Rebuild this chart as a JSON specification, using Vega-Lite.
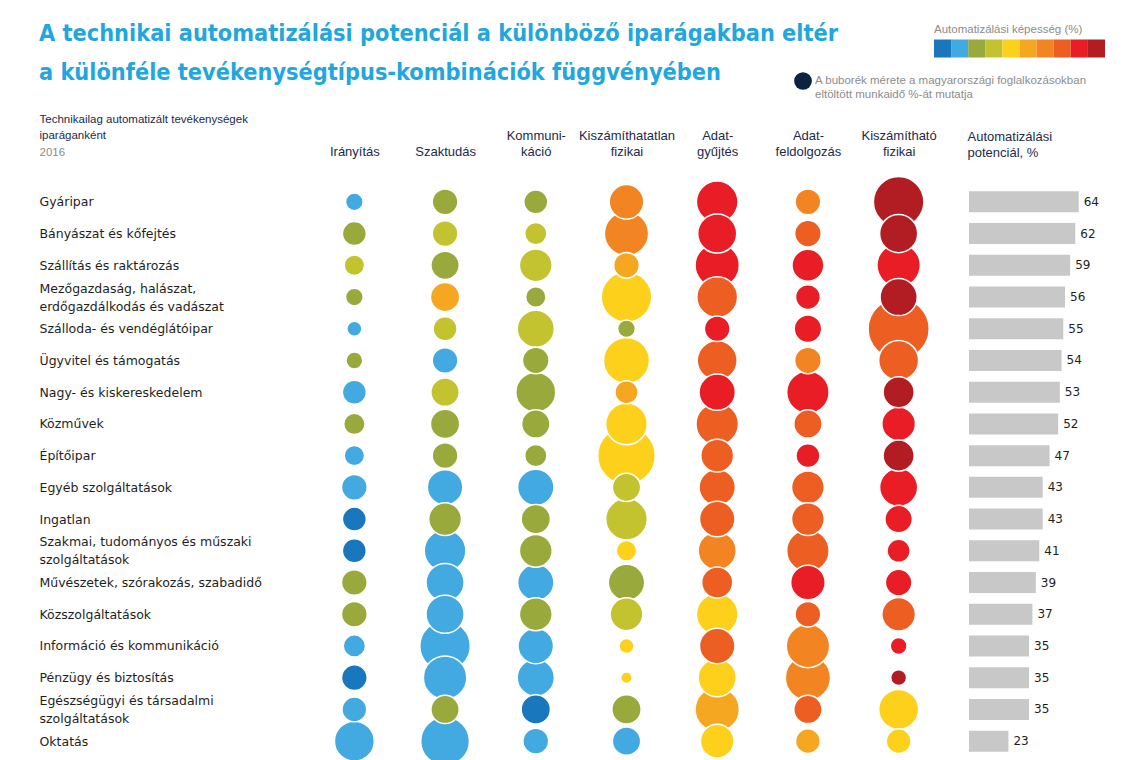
{
  "$schema": "https://vega.github.io/schema/vega-lite/v6.json",
  "padding": {"left": 39, "top": 21, "right": 0, "bottom": 0},
  "background": "white",
  "bounds": "flush",
  "spacing": 25,
  "title": {
    "text": ["A technikai automatizálási potenciál a különböző iparágakban eltér", "a különféle tevékenységtípus-kombinációk függvényében"],
    "anchor": "start",
    "frame": "bounds",
    "font": "Liberation Sans Narrow, DejaVu Sans Condensed, sans-serif",
    "fontSize": 23.3,
    "fontWeight": "bold",
    "color": "#22a6de",
    "lineHeight": 39,
    "offset": -61
  },
  "config": {"view": {"stroke": null}, "font": "DejaVu Sans"},
  "datasets": {
    "buborek": [
      {"ag": "Gyáripar", "tev": "Irányítás", "kep": 15, "ido": 4.0},
      {"ag": "Gyáripar", "tev": "Szaktudás", "kep": 25, "ido": 8.4},
      {"ag": "Gyáripar", "tev": "Kommunikáció", "kep": 25, "ido": 7.3},
      {"ag": "Gyáripar", "tev": "Kiszámíthatatlan fizikai", "kep": 65, "ido": 15.2},
      {"ag": "Gyáripar", "tev": "Adatgyűjtés", "kep": 85, "ido": 22.1},
      {"ag": "Gyáripar", "tev": "Adatfeldolgozás", "kep": 65, "ido": 8.4},
      {"ag": "Gyáripar", "tev": "Kiszámítható fizikai", "kep": 95, "ido": 32.5},
      {"ag": "Bányászat és kőfejtés", "tev": "Irányítás", "kep": 25, "ido": 7.3},
      {"ag": "Bányászat és kőfejtés", "tev": "Szaktudás", "kep": 35, "ido": 8.4},
      {"ag": "Bányászat és kőfejtés", "tev": "Kommunikáció", "kep": 35, "ido": 6.3},
      {"ag": "Bányászat és kőfejtés", "tev": "Kiszámíthatatlan fizikai", "kep": 65, "ido": 25.0},
      {"ag": "Bányászat és kőfejtés", "tev": "Adatgyűjtés", "kep": 85, "ido": 19.4},
      {"ag": "Bányászat és kőfejtés", "tev": "Adatfeldolgozás", "kep": 75, "ido": 9.0},
      {"ag": "Bányászat és kőfejtés", "tev": "Kiszámítható fizikai", "kep": 95, "ido": 18.5},
      {"ag": "Szállítás és raktározás", "tev": "Irányítás", "kep": 35, "ido": 5.3},
      {"ag": "Szállítás és raktározás", "tev": "Szaktudás", "kep": 25, "ido": 10.2},
      {"ag": "Szállítás és raktározás", "tev": "Kommunikáció", "kep": 35, "ido": 13.7},
      {"ag": "Szállítás és raktározás", "tev": "Kiszámíthatatlan fizikai", "kep": 55, "ido": 8.4},
      {"ag": "Szállítás és raktározás", "tev": "Adatgyűjtés", "kep": 85, "ido": 25.0},
      {"ag": "Szállítás és raktározás", "tev": "Adatfeldolgozás", "kep": 85, "ido": 13.0},
      {"ag": "Szállítás és raktározás", "tev": "Kiszámítható fizikai", "kep": 85, "ido": 24.0},
      {"ag": "Mezőgazdaság, halászat,\nerdőgazdálkodás és vadászat", "tev": "Irányítás", "kep": 25, "ido": 4.0},
      {"ag": "Mezőgazdaság, halászat,\nerdőgazdálkodás és vadászat", "tev": "Szaktudás", "kep": 55, "ido": 10.9},
      {"ag": "Mezőgazdaság, halászat,\nerdőgazdálkodás és vadászat", "tev": "Kommunikáció", "kep": 25, "ido": 5.3},
      {"ag": "Mezőgazdaság, halászat,\nerdőgazdálkodás és vadászat", "tev": "Kiszámíthatatlan fizikai", "kep": 45, "ido": 32.5},
      {"ag": "Mezőgazdaság, halászat,\nerdőgazdálkodás és vadászat", "tev": "Adatgyűjtés", "kep": 75, "ido": 21.2},
      {"ag": "Mezőgazdaság, halászat,\nerdőgazdálkodás és vadászat", "tev": "Adatfeldolgozás", "kep": 85, "ido": 7.8},
      {"ag": "Mezőgazdaság, halászat,\nerdőgazdálkodás és vadászat", "tev": "Kiszámítható fizikai", "kep": 95, "ido": 17.6},
      {"ag": "Szálloda- és vendéglátóipar", "tev": "Irányítás", "kep": 15, "ido": 2.9},
      {"ag": "Szálloda- és vendéglátóipar", "tev": "Szaktudás", "kep": 35, "ido": 7.3},
      {"ag": "Szálloda- és vendéglátóipar", "tev": "Kommunikáció", "kep": 35, "ido": 17.6},
      {"ag": "Szálloda- és vendéglátóipar", "tev": "Kiszámíthatatlan fizikai", "kep": 25, "ido": 4.0},
      {"ag": "Szálloda- és vendéglátóipar", "tev": "Adatgyűjtés", "kep": 85, "ido": 8.4},
      {"ag": "Szálloda- és vendéglátóipar", "tev": "Adatfeldolgozás", "kep": 85, "ido": 9.6},
      {"ag": "Szálloda- és vendéglátóipar", "tev": "Kiszámítható fizikai", "kep": 75, "ido": 47.6},
      {"ag": "Ügyvitel és támogatás", "tev": "Irányítás", "kep": 25, "ido": 3.6},
      {"ag": "Ügyvitel és támogatás", "tev": "Szaktudás", "kep": 15, "ido": 8.4},
      {"ag": "Ügyvitel és támogatás", "tev": "Kommunikáció", "kep": 25, "ido": 9.0},
      {"ag": "Ügyvitel és támogatás", "tev": "Kiszámíthatatlan fizikai", "kep": 45, "ido": 27.0},
      {"ag": "Ügyvitel és támogatás", "tev": "Adatgyűjtés", "kep": 75, "ido": 20.3},
      {"ag": "Ügyvitel és támogatás", "tev": "Adatfeldolgozás", "kep": 65, "ido": 9.0},
      {"ag": "Ügyvitel és támogatás", "tev": "Kiszámítható fizikai", "kep": 75, "ido": 20.3},
      {"ag": "Nagy- és kiskereskedelem", "tev": "Irányítás", "kep": 15, "ido": 7.3},
      {"ag": "Nagy- és kiskereskedelem", "tev": "Szaktudás", "kep": 35, "ido": 10.2},
      {"ag": "Nagy- és kiskereskedelem", "tev": "Kommunikáció", "kep": 25, "ido": 20.3},
      {"ag": "Nagy- és kiskereskedelem", "tev": "Kiszámíthatatlan fizikai", "kep": 55, "ido": 6.8},
      {"ag": "Nagy- és kiskereskedelem", "tev": "Adatgyűjtés", "kep": 85, "ido": 16.8},
      {"ag": "Nagy- és kiskereskedelem", "tev": "Adatfeldolgozás", "kep": 85, "ido": 23.0},
      {"ag": "Nagy- és kiskereskedelem", "tev": "Kiszámítható fizikai", "kep": 95, "ido": 12.3},
      {"ag": "Közművek", "tev": "Irányítás", "kep": 25, "ido": 5.8},
      {"ag": "Közművek", "tev": "Szaktudás", "kep": 25, "ido": 10.9},
      {"ag": "Közművek", "tev": "Kommunikáció", "kep": 25, "ido": 10.2},
      {"ag": "Közművek", "tev": "Kiszámíthatatlan fizikai", "kep": 45, "ido": 22.1},
      {"ag": "Közművek", "tev": "Adatgyűjtés", "kep": 75, "ido": 23.0},
      {"ag": "Közművek", "tev": "Adatfeldolgozás", "kep": 75, "ido": 10.2},
      {"ag": "Közművek", "tev": "Kiszámítható fizikai", "kep": 85, "ido": 14.4},
      {"ag": "Építőipar", "tev": "Irányítás", "kep": 15, "ido": 5.3},
      {"ag": "Építőipar", "tev": "Szaktudás", "kep": 25, "ido": 8.4},
      {"ag": "Építőipar", "tev": "Kommunikáció", "kep": 25, "ido": 6.3},
      {"ag": "Építőipar", "tev": "Kiszámíthatatlan fizikai", "kep": 45, "ido": 42.3},
      {"ag": "Építőipar", "tev": "Adatgyűjtés", "kep": 75, "ido": 13.7},
      {"ag": "Építőipar", "tev": "Adatfeldolgozás", "kep": 85, "ido": 7.3},
      {"ag": "Építőipar", "tev": "Kiszámítható fizikai", "kep": 95, "ido": 12.3},
      {"ag": "Egyéb szolgáltatások", "tev": "Irányítás", "kep": 15, "ido": 8.4},
      {"ag": "Egyéb szolgáltatások", "tev": "Szaktudás", "kep": 15, "ido": 16.0},
      {"ag": "Egyéb szolgáltatások", "tev": "Kommunikáció", "kep": 15, "ido": 16.8},
      {"ag": "Egyéb szolgáltatások", "tev": "Kiszámíthatatlan fizikai", "kep": 35, "ido": 10.2},
      {"ag": "Egyéb szolgáltatások", "tev": "Adatgyűjtés", "kep": 75, "ido": 16.8},
      {"ag": "Egyéb szolgáltatások", "tev": "Adatfeldolgozás", "kep": 75, "ido": 13.7},
      {"ag": "Egyéb szolgáltatások", "tev": "Kiszámítható fizikai", "kep": 85, "ido": 18.5},
      {"ag": "Ingatlan", "tev": "Irányítás", "kep": 5, "ido": 7.3},
      {"ag": "Ingatlan", "tev": "Szaktudás", "kep": 25, "ido": 13.7},
      {"ag": "Ingatlan", "tev": "Kommunikáció", "kep": 25, "ido": 10.9},
      {"ag": "Ingatlan", "tev": "Kiszámíthatatlan fizikai", "kep": 35, "ido": 22.1},
      {"ag": "Ingatlan", "tev": "Adatgyűjtés", "kep": 75, "ido": 16.0},
      {"ag": "Ingatlan", "tev": "Adatfeldolgozás", "kep": 75, "ido": 13.7},
      {"ag": "Ingatlan", "tev": "Kiszámítható fizikai", "kep": 85, "ido": 9.6},
      {"ag": "Szakmai, tudományos és műszaki\nszolgáltatások", "tev": "Irányítás", "kep": 5, "ido": 7.3},
      {"ag": "Szakmai, tudományos és műszaki\nszolgáltatások", "tev": "Szaktudás", "kep": 15, "ido": 22.1},
      {"ag": "Szakmai, tudományos és műszaki\nszolgáltatások", "tev": "Kommunikáció", "kep": 25, "ido": 13.7},
      {"ag": "Szakmai, tudományos és műszaki\nszolgáltatások", "tev": "Kiszámíthatatlan fizikai", "kep": 45, "ido": 5.3},
      {"ag": "Szakmai, tudományos és műszaki\nszolgáltatások", "tev": "Adatgyűjtés", "kep": 65, "ido": 18.5},
      {"ag": "Szakmai, tudományos és műszaki\nszolgáltatások", "tev": "Adatfeldolgozás", "kep": 75, "ido": 23.0},
      {"ag": "Szakmai, tudományos és műszaki\nszolgáltatások", "tev": "Kiszámítható fizikai", "kep": 85, "ido": 6.8},
      {"ag": "Művészetek, szórakozás, szabadidő", "tev": "Irányítás", "kep": 25, "ido": 8.4},
      {"ag": "Művészetek, szórakozás, szabadidő", "tev": "Szaktudás", "kep": 15, "ido": 18.5},
      {"ag": "Művészetek, szórakozás, szabadidő", "tev": "Kommunikáció", "kep": 15, "ido": 16.8},
      {"ag": "Művészetek, szórakozás, szabadidő", "tev": "Kiszámíthatatlan fizikai", "kep": 25, "ido": 16.8},
      {"ag": "Művészetek, szórakozás, szabadidő", "tev": "Adatgyűjtés", "kep": 75, "ido": 12.3},
      {"ag": "Művészetek, szórakozás, szabadidő", "tev": "Adatfeldolgozás", "kep": 85, "ido": 15.2},
      {"ag": "Művészetek, szórakozás, szabadidő", "tev": "Kiszámítható fizikai", "kep": 85, "ido": 9.0},
      {"ag": "Közszolgáltatások", "tev": "Irányítás", "kep": 25, "ido": 8.4},
      {"ag": "Közszolgáltatások", "tev": "Szaktudás", "kep": 15, "ido": 18.5},
      {"ag": "Közszolgáltatások", "tev": "Kommunikáció", "kep": 25, "ido": 13.7},
      {"ag": "Közszolgáltatások", "tev": "Kiszámíthatatlan fizikai", "kep": 35, "ido": 13.7},
      {"ag": "Közszolgáltatások", "tev": "Adatgyűjtés", "kep": 45, "ido": 22.1},
      {"ag": "Közszolgáltatások", "tev": "Adatfeldolgozás", "kep": 75, "ido": 8.4},
      {"ag": "Közszolgáltatások", "tev": "Kiszámítható fizikai", "kep": 75, "ido": 14.4},
      {"ag": "Információ és kommunikáció", "tev": "Irányítás", "kep": 15, "ido": 6.3},
      {"ag": "Információ és kommunikáció", "tev": "Szaktudás", "kep": 15, "ido": 32.5},
      {"ag": "Információ és kommunikáció", "tev": "Kommunikáció", "kep": 15, "ido": 16.0},
      {"ag": "Információ és kommunikáció", "tev": "Kiszámíthatatlan fizikai", "kep": 45, "ido": 2.9},
      {"ag": "Információ és kommunikáció", "tev": "Adatgyűjtés", "kep": 75, "ido": 16.0},
      {"ag": "Információ és kommunikáció", "tev": "Adatfeldolgozás", "kep": 65, "ido": 24.0},
      {"ag": "Információ és kommunikáció", "tev": "Kiszámítható fizikai", "kep": 85, "ido": 3.6},
      {"ag": "Pénzügy és biztosítás", "tev": "Irányítás", "kep": 5, "ido": 8.4},
      {"ag": "Pénzügy és biztosítás", "tev": "Szaktudás", "kep": 15, "ido": 24.0},
      {"ag": "Pénzügy és biztosítás", "tev": "Kommunikáció", "kep": 15, "ido": 17.6},
      {"ag": "Pénzügy és biztosítás", "tev": "Kiszámíthatatlan fizikai", "kep": 45, "ido": 1.7},
      {"ag": "Pénzügy és biztosítás", "tev": "Adatgyűjtés", "kep": 45, "ido": 18.5},
      {"ag": "Pénzügy és biztosítás", "tev": "Adatfeldolgozás", "kep": 65, "ido": 26.0},
      {"ag": "Pénzügy és biztosítás", "tev": "Kiszámítható fizikai", "kep": 95, "ido": 3.2},
      {"ag": "Egészségügyi és társadalmi\nszolgáltatások", "tev": "Irányítás", "kep": 15, "ido": 7.8},
      {"ag": "Egészségügyi és társadalmi\nszolgáltatások", "tev": "Szaktudás", "kep": 25, "ido": 10.2},
      {"ag": "Egészségügyi és társadalmi\nszolgáltatások", "tev": "Kommunikáció", "kep": 5, "ido": 10.9},
      {"ag": "Egészségügyi és társadalmi\nszolgáltatások", "tev": "Kiszámíthatatlan fizikai", "kep": 25, "ido": 10.9},
      {"ag": "Egészségügyi és társadalmi\nszolgáltatások", "tev": "Adatgyűjtés", "kep": 55, "ido": 25.0},
      {"ag": "Egészségügyi és társadalmi\nszolgáltatások", "tev": "Adatfeldolgozás", "kep": 75, "ido": 10.2},
      {"ag": "Egészségügyi és társadalmi\nszolgáltatások", "tev": "Kiszámítható fizikai", "kep": 45, "ido": 20.3},
      {"ag": "Oktatás", "tev": "Irányítás", "kep": 15, "ido": 20.3},
      {"ag": "Oktatás", "tev": "Szaktudás", "kep": 15, "ido": 30.3},
      {"ag": "Oktatás", "tev": "Kommunikáció", "kep": 15, "ido": 8.4},
      {"ag": "Oktatás", "tev": "Kiszámíthatatlan fizikai", "kep": 15, "ido": 10.2},
      {"ag": "Oktatás", "tev": "Adatgyűjtés", "kep": 45, "ido": 14.4},
      {"ag": "Oktatás", "tev": "Adatfeldolgozás", "kep": 55, "ido": 7.8},
      {"ag": "Oktatás", "tev": "Kiszámítható fizikai", "kep": 45, "ido": 7.8}
    ],
    "potencial": [
      {"ag": "Gyáripar", "pot": 64},
      {"ag": "Bányászat és kőfejtés", "pot": 62},
      {"ag": "Szállítás és raktározás", "pot": 59},
      {"ag": "Mezőgazdaság, halászat,\nerdőgazdálkodás és vadászat", "pot": 56},
      {"ag": "Szálloda- és vendéglátóipar", "pot": 55},
      {"ag": "Ügyvitel és támogatás", "pot": 54},
      {"ag": "Nagy- és kiskereskedelem", "pot": 53},
      {"ag": "Közművek", "pot": 52},
      {"ag": "Építőipar", "pot": 47},
      {"ag": "Egyéb szolgáltatások", "pot": 43},
      {"ag": "Ingatlan", "pot": 43},
      {"ag": "Szakmai, tudományos és műszaki\nszolgáltatások", "pot": 41},
      {"ag": "Művészetek, szórakozás, szabadidő", "pot": 39},
      {"ag": "Közszolgáltatások", "pot": 37},
      {"ag": "Információ és kommunikáció", "pot": 35},
      {"ag": "Pénzügy és biztosítás", "pot": 35},
      {"ag": "Egészségügyi és társadalmi\nszolgáltatások", "pot": 35},
      {"ag": "Oktatás", "pot": 23}
    ]
  },
  "hconcat": [
    {
      "width": 635,
      "height": 571,
      "data": {"name": "buborek"},
      "mark": {"type": "circle", "opacity": 1, "stroke": "white", "strokeWidth": 1.5},
      "encoding": {
        "x": {
          "field": "tev", "type": "nominal", "sort": null,
          "scale": {"type": "point", "padding": 0.5},
          "axis": {
            "orient": "top", "domain": false, "ticks": false, "grid": false,
            "labelAngle": 0, "labelPadding": 44,
            "labelFont": "Liberation Sans", "labelFontSize": 13, "labelColor": "#1b2a4e",
            "labelLineHeight": 16,
            "labelExpr": "datum.value == 'Kommunikáció' ? ['Kommuni-', 'káció'] : datum.value == 'Adatgyűjtés' ? ['Adat-', 'gyűjtés'] : datum.value == 'Adatfeldolgozás' ? ['Adat-', 'feldolgozás'] : indexof(datum.value, ' ') > 0 ? split(datum.value, ' ') : ['', datum.value]",
            "title": "2016", "titleX": -270, "titleY": -31, "titleAlign": "left", "titleBaseline": "alphabetic",
            "titleColor": "#8c8c8c", "titleFontWeight": "normal", "titleFontSize": 11.5, "titleFont": "Liberation Sans"
          }
        },
        "y": {
          "field": "ag", "type": "nominal", "sort": null,
          "scale": {"type": "point", "padding": 0.5},
          "axis": {
            "orient": "left", "domain": false, "ticks": false, "grid": false,
            "labelAlign": "left", "labelBaseline": "middle", "labelPadding": 270, "labelLimit": 400,
            "labelOverlap": false,
            "labelOffset": {"condition": {"test": "indexof(datum.value, '\\n') >= 0", "value": -9}, "value": 0},
            "labelFont": "DejaVu Sans", "labelFontSize": 12.5, "labelColor": "#1e1e1e", "labelLineHeight": 18,
            "labelExpr": "split(datum.value, '\\n')",
            "title": ["Technikailag automatizált tevékenységek", "iparáganként"],
            "titleAngle": 0, "titleX": -270, "titleY": -64, "titleAlign": "left", "titleBaseline": "alphabetic",
            "titleFont": "Liberation Sans", "titleFontWeight": "normal", "titleFontSize": 11.5, "titleColor": "#1b2a4e", "titleLineHeight": 16
          }
        },
        "size": {
          "field": "ido", "type": "quantitative",
          "scale": {"domain": [0, 50], "range": [0, 3927]},
          "legend": {
            "orient": "none", "legendX": 485, "legendY": -114, "padding": 0,
            "values": [4.0], "title": null,
            "symbolFillColor": "#0c2340", "symbolStrokeColor": "#0c2340", "symbolStrokeWidth": 0,
            "labelExpr": "['A buborék mérete a magyarországi foglalkozásokban', 'eltöltött munkaidő %-át mutatja']",
            "labelFont": "Liberation Sans", "labelFontSize": 11.5, "labelColor": "#8c8c8c", "labelLimit": 400,
            "labelBaseline": "middle", "labelOffset": 3, "labelLineHeight": 13
          }
        },
        "color": {
          "field": "kep", "type": "quantitative",
          "scale": {"type": "quantize", "domain": [0, 100], "range": ["#1877bd", "#42aae0", "#9aa93b", "#c2c32e", "#fdd11b", "#f6a722", "#f28421", "#ed5e23", "#e81d25", "#b21d23"]},
          "legend": {
            "type": "gradient", "orient": "none", "legendX": 625, "legendY": -162, "padding": 0,
            "direction": "horizontal", "gradientLength": 171, "gradientThickness": 18, "gradientStrokeWidth": 0,
            "title": "Automatizálási képesség (%)", "titleFont": "Liberation Sans", "titleFontSize": 11.5,
            "titleColor": "#8c8c8c", "titleFontWeight": "normal", "titlePadding": 4,
            "labelExpr": "''"
          }
        },
        "order": {"field": "ido", "sort": "descending"}
      }
    },
    {
      "width": 120,
      "height": 571,
      "data": {"name": "potencial"},
      "encoding": {
        "y": {"field": "ag", "type": "nominal", "sort": null, "scale": {"type": "point", "padding": 0.5}, "axis": null}
      },
      "layer": [
        {
          "mark": {"type": "bar", "color": "#c8c8c8", "size": 21},
          "encoding": {
            "x": {
              "field": "pot", "type": "quantitative", "scale": {"domain": [0, 68]},
              "axis": {
                "orient": "top", "labels": false, "ticks": false, "domain": false, "grid": false,
                "title": ["Automatizálási", "potenciál, %"], "titleX": -2, "titleY": -46,
                "titleAlign": "left", "titleBaseline": "alphabetic", "titleFont": "Liberation Sans",
                "titleFontWeight": "normal", "titleFontSize": 13, "titleColor": "#1b2a4e", "titleLineHeight": 16
              }
            }
          }
        },
        {
          "mark": {"type": "text", "align": "left", "baseline": "middle", "dx": 5, "font": "DejaVu Sans", "fontSize": 12, "color": "#1e1e1e"},
          "encoding": {
            "x": {"field": "pot", "type": "quantitative"},
            "text": {"field": "pot", "type": "quantitative"}
          }
        }
      ]
    }
  ]
}
